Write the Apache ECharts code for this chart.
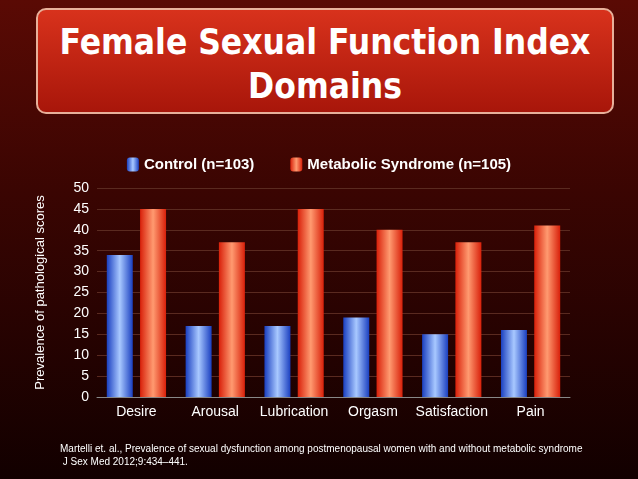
<!DOCTYPE html>
<html><head><meta charset="utf-8">
<script src="https://cdn.jsdelivr.net/npm/echarts@6/dist/echarts.min.js"></script>
<style>
html,body{margin:0;padding:0;width:638px;height:479px;overflow:hidden;background:linear-gradient(#5a0a04 0%,#3a0502 40%,#120000 100%);}
#box{position:absolute;left:36px;top:8px;width:578px;height:106px;border-radius:10px;border:2px solid #e8b09a;background:linear-gradient(#d8321c,#a8160a);box-sizing:border-box;}
#t{position:absolute;left:36px;top:20px;width:578px;text-align:center;color:#fff;font:bold 35px/44px "Liberation Sans Narrow","DejaVu Sans Condensed",sans-serif;}
#c{position:absolute;left:0;top:0;width:638px;height:479px;}
#f{position:absolute;left:60px;top:442px;color:#fff;font:10px/13px "Liberation Sans",sans-serif;white-space:nowrap;}
</style></head><body>
<div id="box"></div>
<div id="t">Female Sexual Function Index<br>Domains</div>
<div id="c"></div>
<div id="f">Martelli et. al., Prevalence of sexual dysfunction among postmenopausal women with and without metabolic syndrome<br>&nbsp;J Sex Med 2012;9:434–441.</div>
<script>
const categories=["Desire","Arousal","Lubrication","Orgasm","Satisfaction","Pain"];
const control=[34,17,17,19,15,16];
const mets=[45,37,45,40,37,41];
const ch=echarts.init(document.getElementById('c'));
const grad=(a,b,c)=>new echarts.graphic.LinearGradient(0,0,1,0,[{offset:0,color:a},{offset:0.5,color:b},{offset:1,color:c}]);
ch.setOption({
 textStyle:{fontFamily:"Liberation Sans"},
 legend:{top:152,left:'center',itemGap:36,itemWidth:12,itemHeight:14,textStyle:{color:'#fff',fontSize:15,fontWeight:'bold'},data:['Control (n=103)','Metabolic Syndrome (n=105)']},
 grid:{left:97,right:68,top:188,bottom:82},
 xAxis:{type:'category',data:categories,axisLine:{lineStyle:{color:'#888'}},axisTick:{show:false},axisLabel:{color:'#fff',fontSize:14,interval:0}},
 yAxis:{type:'value',min:0,max:50,interval:5,name:'Prevalence of pathological scores',nameLocation:'middle',nameGap:50,nameTextStyle:{color:'#fff',fontSize:13},axisLabel:{color:'#fff',fontSize:14},splitLine:{lineStyle:{color:'#5a2a20'}},axisLine:{show:false}},
 series:[
  {name:'Control (n=103)',type:'bar',data:control,barWidth:26,barGap:'28%',itemStyle:{color:grad('#1a3fc0','#a8c8ff','#1a3fc0')}},
  {name:'Metabolic Syndrome (n=105)',type:'bar',data:mets,barWidth:26,itemStyle:{color:grad('#d8200a','#ff9a70','#d8200a')}}
 ]
});
</script></body></html>
